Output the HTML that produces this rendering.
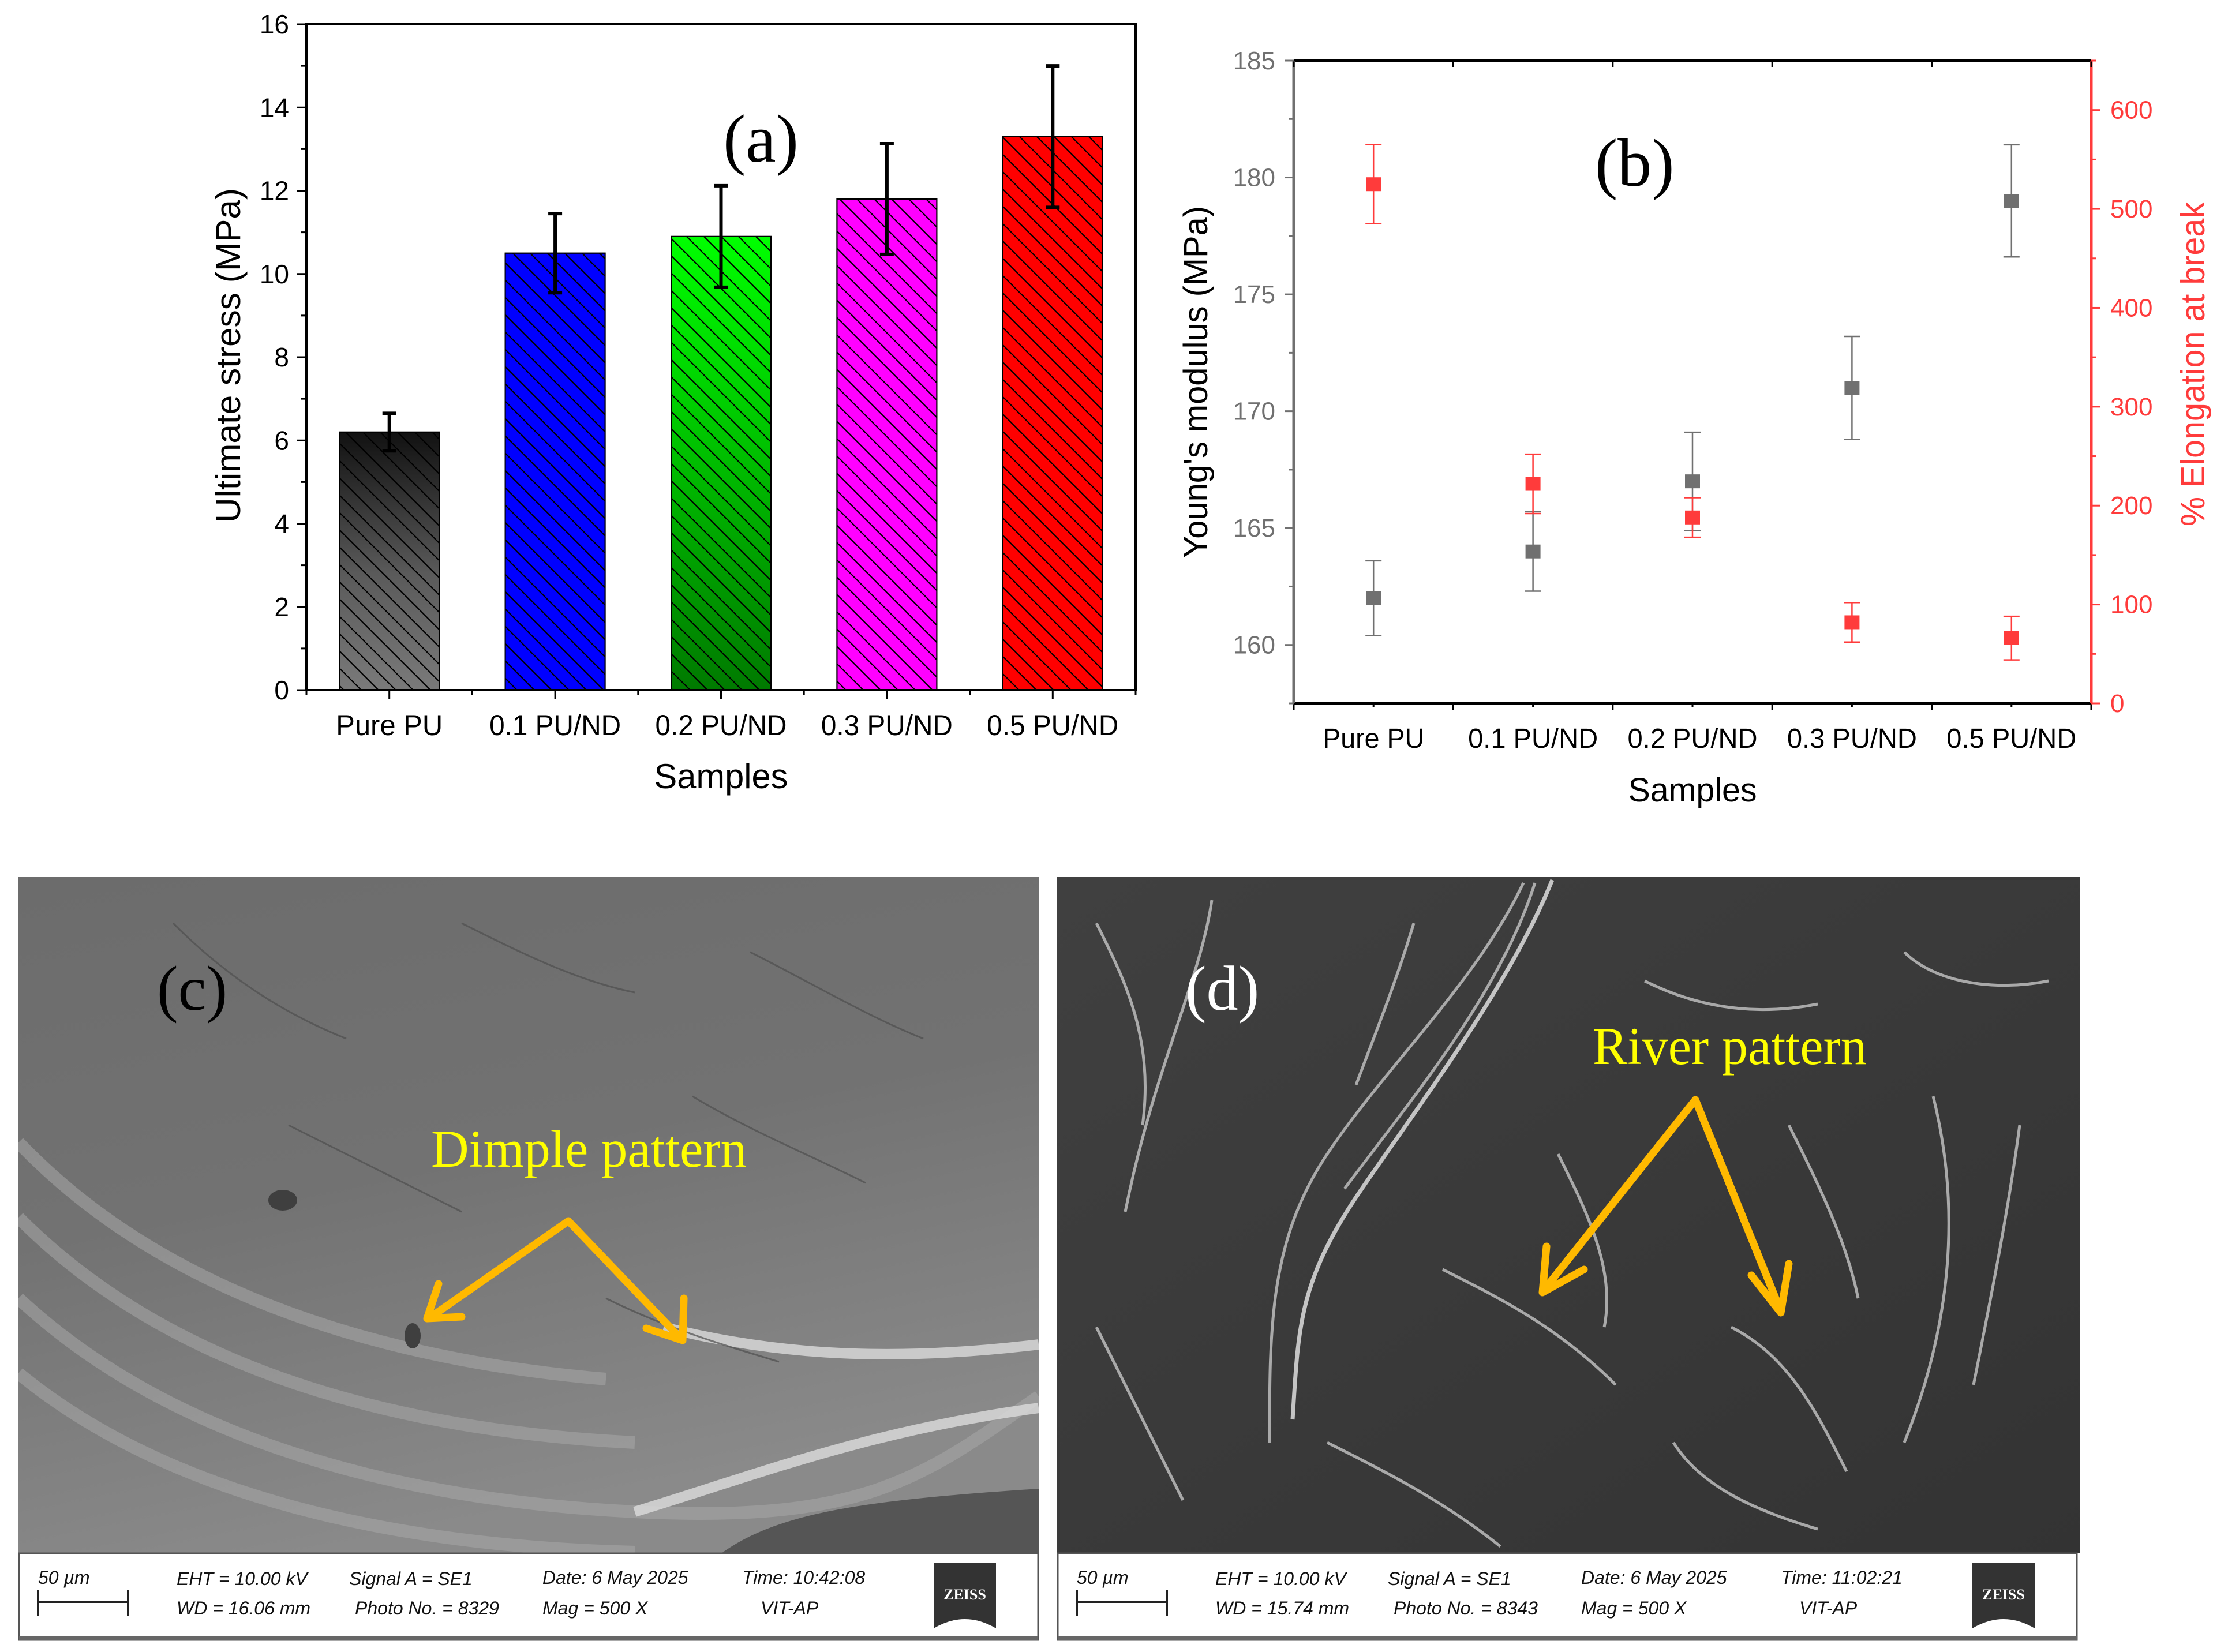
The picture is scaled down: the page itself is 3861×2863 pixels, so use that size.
<!DOCTYPE html>
<html><head><meta charset="utf-8">
<style>
html,body{margin:0;padding:0;background:#fff;}
svg{display:block;}
text{font-family:"Liberation Sans",sans-serif;}
.serif{font-family:"Liberation Serif",serif;}
</style></head>
<body>
<svg id="fig" width="3861" height="2863" viewBox="0 0 3861 2863" xmlns="http://www.w3.org/2000/svg">
<defs>
  <pattern id="hatch" patternUnits="userSpaceOnUse" width="30" height="30">
    <path d="M-15,15 L15,45 M0,0 L30,30 M15,-15 L45,15" stroke="#000" stroke-width="2.2"/>
  </pattern>
  <linearGradient id="gGray" x1="0" y1="0" x2="0" y2="1"><stop offset="0" stop-color="#111"/><stop offset="0.55" stop-color="#5a5a5a"/><stop offset="1" stop-color="#7a7a7a"/></linearGradient>
  <linearGradient id="gGreen" x1="0" y1="0" x2="0" y2="1"><stop offset="0" stop-color="#00ff00"/><stop offset="1" stop-color="#007a00"/></linearGradient>
  <linearGradient id="semC" x1="0" y1="0" x2="0.3" y2="1"><stop offset="0" stop-color="#6c6c6c"/><stop offset="0.5" stop-color="#727272"/><stop offset="1" stop-color="#8a8a8a"/></linearGradient>
  <linearGradient id="semD" x1="0" y1="0" x2="1" y2="1"><stop offset="0" stop-color="#404040"/><stop offset="1" stop-color="#333"/></linearGradient>
  <clipPath id="clipC"><rect x="32" y="1520" width="1768" height="1172"/></clipPath>
  <clipPath id="clipD"><rect x="1832" y="1520" width="1772" height="1172"/></clipPath>
</defs>

<g id="chartA"></g>
<g id="chartB"></g>

<g>
  <g clip-path="url(#clipC)">
    <rect x="32" y="1520" width="1768" height="1172" fill="url(#semC)"/>
    <g fill="none" stroke="#a8a8a8" stroke-width="22" opacity="0.55">
      <path d="M32,2250 C300,2500 700,2600 1100,2620 S1600,2560 1800,2420"/>
      <path d="M32,2380 C300,2600 700,2680 1100,2690"/>
      <path d="M32,2110 C300,2380 700,2480 1100,2500"/>
      <path d="M32,1980 C300,2260 700,2360 1050,2390"/>
    </g>
    <g fill="none" stroke="#dcdcdc" stroke-width="18" opacity="0.8">
      <path d="M1150,2300 C1350,2350 1550,2360 1800,2330"/>
      <path d="M1100,2620 C1300,2560 1500,2480 1800,2440"/>
    </g>
    <path d="M1250,2692 C1350,2620 1500,2600 1800,2580 L1800,2692 Z" fill="#555"/>
    <g fill="none" stroke="#4e4e4e" stroke-width="3" opacity="0.7">
      <path d="M300,1600 C400,1700 500,1760 600,1800"/><path d="M800,1600 C900,1650 1000,1700 1100,1720"/>
      <path d="M1300,1650 C1400,1700 1500,1760 1600,1800"/><path d="M500,1950 C600,2000 700,2050 800,2100"/>
      <path d="M1200,1900 C1300,1960 1400,2000 1500,2050"/><path d="M1050,2250 C1150,2300 1250,2330 1350,2360"/>
    </g>
    <ellipse cx="490" cy="2080" rx="25" ry="18" fill="#3f3f3f"/>
    <ellipse cx="715" cy="2315" rx="14" ry="22" fill="#3f3f3f"/>
  </g>
  <text class="serif" x="272" y="1750" font-size="110" fill="#000">(c)</text>
  <text class="serif" x="747" y="2022" font-size="92" fill="#ffff00" textLength="547" lengthAdjust="spacingAndGlyphs">Dimple pattern</text>
  <g stroke="#ffb900" stroke-width="13" fill="none" stroke-linecap="round" stroke-linejoin="round">
    <path d="M750,2280 L985,2116 L1180,2320"/>
    <path d="M760,2225 L740,2285 L800,2282"/>
    <path d="M1185,2250 L1183,2323 L1120,2302"/>
  </g>
</g>

<g>
  <g clip-path="url(#clipD)">
    <rect x="1832" y="1520" width="1772" height="1172" fill="url(#semD)"/>
    <g fill="none" stroke="#bdbdbd" stroke-width="5" opacity="0.85">
      <path d="M2640,1530 C2560,1700 2400,1850 2300,2000 S2200,2300 2200,2500"/>
      <path d="M2660,1530 C2600,1720 2450,1900 2330,2060"/>
      <path d="M1900,1600 C1950,1700 2000,1800 1980,1950"/>
      <path d="M2100,1560 C2080,1700 2000,1850 1950,2100"/>
      <path d="M2850,1700 C2950,1750 3050,1760 3150,1740"/>
      <path d="M3300,1650 C3350,1700 3450,1720 3550,1700"/>
      <path d="M3350,1900 C3400,2100 3380,2300 3300,2500"/>
      <path d="M3500,1950 C3480,2100 3450,2250 3420,2400"/>
      <path d="M2700,2000 C2750,2100 2800,2200 2780,2300"/>
      <path d="M2500,2200 C2600,2250 2700,2300 2800,2400"/>
      <path d="M3000,2300 C3100,2350 3150,2450 3200,2550"/>
      <path d="M2300,2500 C2400,2550 2500,2600 2600,2680"/>
      <path d="M2900,2500 C2950,2580 3050,2620 3150,2650"/>
      <path d="M1900,2300 C1950,2400 2000,2500 2050,2600"/>
      <path d="M3100,1950 C3150,2050 3200,2150 3220,2250"/>
      <path d="M2450,1600 C2420,1700 2380,1800 2350,1880"/>
    </g>
    <g fill="none" stroke="#ffffff" stroke-width="7" opacity="0.7">
      <path d="M2690,1525 C2620,1700 2470,1900 2360,2060 S2250,2300 2240,2460"/>
    </g>
  </g>
  <text class="serif" x="2054" y="1750" font-size="110" fill="#ffffff">(d)</text>
  <text class="serif" x="2760" y="1844" font-size="92" fill="#ffff00" textLength="475" lengthAdjust="spacingAndGlyphs">River pattern</text>
  <g stroke="#ffb900" stroke-width="13" fill="none" stroke-linecap="round" stroke-linejoin="round">
    <path d="M2676,2235 L2938,1906 L3086,2272"/>
    <path d="M2680,2160 L2673,2240 L2745,2200"/>
    <path d="M3100,2190 L3086,2275 L3035,2210"/>
  </g>
</g>

<g id="infoBars"></g>
</svg>

<script>
const NS = "http://www.w3.org/2000/svg";
function mk(parent, tag, attrs, txt) {
  const e = document.createElementNS(NS, tag);
  for (const k in attrs) e.setAttribute(k, attrs[k]);
  if (txt !== undefined) e.textContent = txt;
  parent.appendChild(e);
  return e;
}

/* ---------- Chart (a) data ---------- */
const catsA = ["Pure PU", "0.1 PU/ND", "0.2 PU/ND", "0.3 PU/ND", "0.5 PU/ND"];
const stressVals = [6.2, 10.5, 10.9, 11.8, 13.3];
const stressErr = [0.45, 0.95, 1.22, 1.33, 1.7];
const yTicksA = [0, 2, 4, 6, 8, 10, 12, 14, 16];
const barFills = ["url(#gGray)", "#0000ff", "url(#gGreen)", "#ff00ff", "#ff0000"];

/* ---------- Chart (b) data ---------- */
const catsB = ["Pure PU", "0.1 PU/ND", "0.2 PU/ND", "0.3 PU/ND", "0.5 PU/ND"];
const modulusVals = [162, 164, 167, 171, 179];
const modulusErr = [1.6, 1.7, 2.1, 2.2, 2.4];
const elongVals = [525, 222, 188, 82, 66];
const elongErr = [40, 30, 20, 20, 22];
const yTicksBL = [160, 165, 170, 175, 180, 185];
const yTicksBR = [0, 100, 200, 300, 400, 500, 600];

(function () {
  const g = document.getElementById("chartA");
  const L = 531, R = 1968, T = 42, B = 1196, ymax = 16;
  const y = v => B - v / ymax * (B - T);
  const step = (R - L) / catsA.length;
  const x = i => L + (i + 0.5) * step;
  const bw = 173;
  catsA.forEach((c, i) => {
    const b = mk(g, "rect", { x: x(i) - bw / 2, y: y(stressVals[i]), width: bw, height: B - y(stressVals[i]), fill: barFills[i], stroke: "#000", "stroke-width": 2 });
    
    
    const h = mk(g, "rect", { x: x(i) - bw / 2, y: y(stressVals[i]), width: bw, height: B - y(stressVals[i]), fill: "url(#hatch)", stroke: "#000", "stroke-width": 2 });
    
    
    const t = y(stressVals[i] + stressErr[i]), bt = y(stressVals[i] - stressErr[i]);
    const e = mk(g, "path", { d: `M${x(i)},${t} V${bt} M${x(i) - 12},${t} H${x(i) + 12} M${x(i) - 12},${bt} H${x(i) + 12}`, stroke: "#000", "stroke-width": 6, fill: "none" });
    
    
    const lab = mk(g, "text", { x: x(i), y: 1274, "font-size": 50, "text-anchor": "middle", textLength: i === 0 ? 185 : 228, lengthAdjust: "spacingAndGlyphs" }, c);
    
    
    mk(g, "line", { x1: x(i), y1: B, x2: x(i), y2: B + 16, stroke: "#000", "stroke-width": 3 });
  });
  for (let i = 0; i <= catsA.length; i++) mk(g, "line", { x1: L + i * step, y1: B, x2: L + i * step, y2: B + 9, stroke: "#000", "stroke-width": 3 });
  const ax = mk(g, "rect", { x: L, y: T, width: R - L, height: B - T, fill: "none", stroke: "#000", "stroke-width": 4 });
  
  
  yTicksA.forEach(v => {
    mk(g, "line", { x1: L - 16, y1: y(v), x2: L, y2: y(v), stroke: "#000", "stroke-width": 3 });
    if (v < ymax) mk(g, "line", { x1: L - 9, y1: y(v + 1), x2: L, y2: y(v + 1), stroke: "#000", "stroke-width": 3 });
    const t = mk(g, "text", { x: L - 30, y: y(v) + 16, "font-size": 46, "text-anchor": "end" }, String(v));
    
    
  });
  const yt = mk(g, "text", { x: 0, y: 0, "font-size": 60, "text-anchor": "middle", transform: "translate(416,616) rotate(-90)", textLength: 580, lengthAdjust: "spacingAndGlyphs" }, "Ultimate stress (MPa)");
  
  
  const xt = mk(g, "text", { x: (L + R) / 2, y: 1366, "font-size": 60, "text-anchor": "middle", textLength: 232, lengthAdjust: "spacingAndGlyphs" }, "Samples");
  
  
  const pl = mk(g, "text", { x: 1253, y: 280, "font-size": 118, class: "serif" }, "(a)");
  
  
})();

(function () {
  const g = document.getElementById("chartB");
  const L = 2242, R = 3624, T = 105, B = 1219;
  const yminL = 157.5, ymaxL = 185, yminR = 0, ymaxR = 650;
  const yL = v => B - (v - yminL) / (ymaxL - yminL) * (B - T);
  const yR = v => B - (v - yminR) / (ymaxR - yminR) * (B - T);
  const step = (R - L) / catsB.length;
  const x = i => L + (i + 0.5) * step;
  const gray = "#707070", red = "#ff3b3b";
  mk(g, "line", { x1: L, y1: T, x2: R, y2: T, stroke: "#000", "stroke-width": 4 });
  mk(g, "line", { x1: L, y1: B, x2: R, y2: B, stroke: "#000", "stroke-width": 4 });
  const la = mk(g, "line", { x1: L, y1: T, x2: L, y2: B, stroke: gray, "stroke-width": 5 });
  
  
  const ra = mk(g, "line", { x1: R, y1: T, x2: R, y2: B, stroke: red, "stroke-width": 5 });
  
  
  for (let i = 0; i <= catsB.length; i++) {
    mk(g, "line", { x1: L + i * step, y1: B, x2: L + i * step, y2: B + 11, stroke: "#000", "stroke-width": 3 });
    mk(g, "line", { x1: L + i * step, y1: T, x2: L + i * step, y2: T + 11, stroke: "#000", "stroke-width": 3 });
  }
  yTicksBL.forEach(v => {
    mk(g, "line", { x1: L - 15, y1: yL(v), x2: L, y2: yL(v), stroke: gray, "stroke-width": 3 });
    mk(g, "line", { x1: L - 8, y1: yL(v - 2.5), x2: L, y2: yL(v - 2.5), stroke: gray, "stroke-width": 3 });
    const t = mk(g, "text", { x: L - 32, y: yL(v) + 15, "font-size": 44, "text-anchor": "end", fill: gray }, String(v));
    
    
  });
  yTicksBR.forEach(v => {
    mk(g, "line", { x1: R, y1: yR(v), x2: R + 15, y2: yR(v), stroke: red, "stroke-width": 3 });
    mk(g, "line", { x1: R, y1: yR(v + 50), x2: R + 8, y2: yR(v + 50), stroke: red, "stroke-width": 3 });
    const t = mk(g, "text", { x: R + 33, y: yR(v) + 15, "font-size": 44, fill: red }, String(v));
    
    
  });
  catsB.forEach((c, i) => {
    mk(g, "line", { x1: x(i), y1: B, x2: x(i), y2: B + 7, stroke: "#000", "stroke-width": 3 });
    const lab = mk(g, "text", { x: x(i), y: 1296, "font-size": 48, "text-anchor": "middle", textLength: i === 0 ? 176 : 225, lengthAdjust: "spacingAndGlyphs" }, c);
    
    
    let t = yL(modulusVals[i] + modulusErr[i]), bt = yL(modulusVals[i] - modulusErr[i]);
    const e1 = mk(g, "path", { d: `M${x(i)},${t} V${bt} M${x(i) - 14},${t} H${x(i) + 14} M${x(i) - 14},${bt} H${x(i) + 14}`, stroke: gray, "stroke-width": 2.5, fill: "none" });
    
    
    const p1 = mk(g, "rect", { x: x(i) - 13, y: yL(modulusVals[i]) - 12, width: 26, height: 24, fill: gray });
    
    
    t = yR(elongVals[i] + elongErr[i]); bt = yR(elongVals[i] - elongErr[i]);
    const e2 = mk(g, "path", { d: `M${x(i)},${t} V${bt} M${x(i) - 14},${t} H${x(i) + 14} M${x(i) - 14},${bt} H${x(i) + 14}`, stroke: red, "stroke-width": 2.5, fill: "none" });
    
    
    const p2 = mk(g, "rect", { x: x(i) - 13, y: yR(elongVals[i]) - 12, width: 26, height: 24, fill: red });
    
    
  });
  const yt = mk(g, "text", { x: 0, y: 0, "font-size": 58, "text-anchor": "middle", transform: "translate(2092,662) rotate(-90)", textLength: 610, lengthAdjust: "spacingAndGlyphs" }, "Young's modulus (MPa)");
  
  
  const yt2 = mk(g, "text", { x: 0, y: 0, "font-size": 58, "text-anchor": "middle", fill: red, transform: "translate(3820,631) rotate(-90)", textLength: 562, lengthAdjust: "spacingAndGlyphs" }, "% Elongation at break");
  
  
  const xt = mk(g, "text", { x: (L + R) / 2, y: 1389, "font-size": 58, "text-anchor": "middle", textLength: 223, lengthAdjust: "spacingAndGlyphs" }, "Samples");
  
  
  const pl = mk(g, "text", { x: 2764, y: 322, "font-size": 118, class: "serif" }, "(b)");
  
  
})();

(function () {
  const g = document.getElementById("infoBars");
  const bars = [
    { dx: 0, wd: "WD = 16.06 mm", photo: "Photo No. = 8329", time: "Time: 10:42:08" },
    { dx: 1800, wd: "WD = 15.74 mm", photo: "Photo No. = 8343", time: "Time: 11:02:21" }
  ];
  bars.forEach((b, k) => {
    const o = b.dx;
    const r = mk(g, "rect", { x: 33 + o, y: 2692, width: 1766, height: 150, fill: "#fff", stroke: "#555", "stroke-width": 3 });
    
    
    mk(g, "rect", { x: 33 + o, y: 2836, width: 1766, height: 6, fill: "#666" });
    const st = { "font-size": 32, "font-style": "italic", fill: "#111" };
    const put = (x, y, s) => { const t = mk(g, "text", Object.assign({ x: x + o, y: y }, st), s);   };
    put(66, 2745, "50 µm");
    put(306, 2747, "EHT = 10.00 kV");
    put(605, 2747, "Signal A = SE1");
    put(940, 2745, "Date: 6 May 2025");
    put(1286, 2745, b.time);
    put(306, 2798, b.wd);
    put(615, 2798, b.photo);
    put(940, 2798, "Mag =    500 X");
    put(1318, 2798, "VIT-AP");
    mk(g, "path", { d: `M${66 + o},${2755} V${2800} M${222 + o},${2755} V${2800} M${66 + o},${2776} H${222 + o}`, stroke: "#222", "stroke-width": 4, fill: "none" });
    const logo = mk(g, "path", { d: `M${1618 + o},2709 H${1726 + o} V2822 Q${1672 + o},2790 ${1618 + o},2822 Z`, fill: "#333" });
    
    
    mk(g, "text", { x: 1672 + o, y: 2772, "font-size": 26, "font-weight": "bold", fill: "#fff", "text-anchor": "middle", class: "serif" }, "ZEISS");
  });
})();
</script>
</body></html>
